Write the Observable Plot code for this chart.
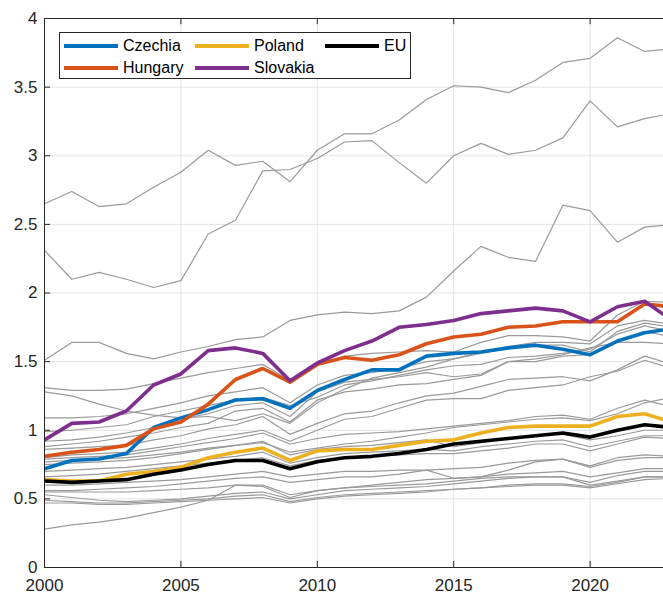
<!DOCTYPE html>
<html>
<head>
<meta charset="utf-8">
<script src="https://cdn.jsdelivr.net/npm/d3@7"></script>
<script src="https://cdn.jsdelivr.net/npm/@observablehq/plot@0.6"></script>
<style>
  html, body { margin: 0; padding: 0; background: #fff; }
  #wrap { position: relative; width: 663px; height: 595px; overflow: hidden; }
  #legend {
    position: absolute; left: 59px; top: 32px; width: 352px; height: 47px;
    border: 1px solid #262626; background: #fff; box-sizing: border-box;
    font-family: "Liberation Sans", Arial, Helvetica, sans-serif; font-size: 16px; color: #000;
  }
  .item { position: absolute; height: 20px; display: flex; align-items: center; }
  .swatch { width: 54px; height: 3.5px; margin-right: 5px; }
</style>
</head>
<body>
<div id="wrap"><div id="legend"></div></div>
<script>
const years = d3.range(2000, 2024);

// Highlighted series
const czechia  = [0.72,0.78,0.79,0.83,1.02,1.09,1.15,1.22,1.23,1.16,1.29,1.37,1.44,1.44,1.54,1.56,1.57,1.60,1.62,1.59,1.55,1.65,1.71,1.74];
const hungary  = [0.81,0.84,0.86,0.89,1.01,1.06,1.19,1.37,1.45,1.35,1.48,1.53,1.51,1.55,1.63,1.68,1.70,1.75,1.76,1.79,1.79,1.79,1.92,1.90];
const poland   = [0.64,0.63,0.63,0.68,0.70,0.73,0.80,0.84,0.87,0.78,0.85,0.86,0.86,0.89,0.92,0.93,0.98,1.02,1.03,1.03,1.03,1.10,1.12,1.06];
const slovakia = [0.93,1.05,1.06,1.14,1.33,1.41,1.58,1.60,1.56,1.36,1.49,1.58,1.65,1.75,1.77,1.80,1.85,1.87,1.89,1.87,1.79,1.90,1.94,1.80];
const eu       = [0.63,0.62,0.63,0.64,0.68,0.71,0.75,0.78,0.78,0.72,0.77,0.80,0.81,0.83,0.86,0.90,0.92,0.94,0.96,0.98,0.95,1.00,1.04,1.02];

// Other EU countries (grey)
const g01 = [2.65,2.74,2.63,2.65,2.77,2.88,3.04,2.93,2.96,2.81,3.04,3.16,3.16,3.26,3.41,3.51,3.50,3.46,3.55,3.68,3.71,3.86,3.76,3.78];
const g02 = [2.31,2.10,2.15,2.10,2.04,2.09,2.43,2.53,2.89,2.90,2.98,3.10,3.11,2.95,2.80,3.00,3.09,3.01,3.04,3.13,3.40,3.21,3.27,3.31];
const g03 = [1.51,1.64,1.64,1.56,1.52,1.57,1.61,1.66,1.68,1.80,1.84,1.86,1.85,1.87,1.97,2.16,2.34,2.26,2.23,2.64,2.60,2.37,2.48,2.50];
const g04 = [1.31,1.29,1.29,1.30,1.34,1.38,1.42,1.45,1.48,1.36,1.47,1.54,1.56,1.57,1.58,1.57,1.64,1.69,1.69,1.68,1.65,1.84,1.94,1.93];
const g05 = [1.28,1.25,1.19,1.14,1.11,1.09,1.10,1.07,1.12,1.05,1.20,1.30,1.38,1.42,1.46,1.52,1.57,1.61,1.64,1.64,1.63,1.76,1.80,1.77];
const g06 = [1.09,1.09,1.10,1.12,1.16,1.20,1.25,1.28,1.31,1.20,1.33,1.40,1.42,1.45,1.50,1.52,1.56,1.60,1.62,1.62,1.57,1.72,1.78,1.75];
const g07 = [0.99,1.00,1.02,1.04,1.10,1.14,1.18,1.22,1.24,1.18,1.24,1.33,1.36,1.40,1.44,1.47,1.48,1.53,1.54,1.56,1.59,1.70,1.76,1.72];
const g08 = [0.92,0.93,0.95,0.98,1.02,1.08,1.12,1.18,1.20,1.10,1.28,1.35,1.37,1.39,1.42,1.39,1.41,1.50,1.50,1.54,1.55,1.65,1.72,1.68];
const g09 = [0.88,0.90,0.92,0.95,0.98,1.02,1.05,1.14,1.16,1.06,1.22,1.28,1.30,1.33,1.34,1.37,1.40,1.50,1.52,1.55,1.60,1.64,1.64,1.63];
const g10 = [0.86,0.87,0.88,0.89,0.93,0.96,1.01,1.04,1.10,0.97,1.05,1.12,1.14,1.20,1.25,1.27,1.32,1.37,1.38,1.39,1.36,1.44,1.54,1.48];
const g11 = [0.80,0.82,0.83,0.84,0.87,0.90,0.94,0.97,1.00,0.92,1.00,1.08,1.10,1.16,1.22,1.23,1.23,1.29,1.31,1.33,1.39,1.43,1.51,1.45];
const g12 = [0.79,0.80,0.81,0.82,0.85,0.88,0.91,0.94,0.98,0.90,0.94,0.97,0.98,0.99,1.01,1.03,1.05,1.07,1.10,1.11,1.08,1.16,1.22,1.17];
const g13 = [0.77,0.78,0.79,0.80,0.82,0.84,0.87,0.89,0.91,0.84,0.87,0.90,0.92,0.95,0.98,1.02,1.04,1.06,1.08,1.09,1.07,1.12,1.20,1.24];
const g14 = [0.75,0.76,0.77,0.78,0.80,0.83,0.86,0.89,0.92,0.82,0.86,0.88,0.89,0.91,0.93,0.88,0.91,0.94,0.96,0.97,0.93,0.96,1.00,1.00];
const g15 = [0.70,0.71,0.72,0.73,0.75,0.77,0.79,0.81,0.84,0.76,0.80,0.83,0.84,0.85,0.86,0.85,0.88,0.90,0.92,0.93,0.88,0.92,0.96,0.96];
const g16 = [0.66,0.67,0.68,0.70,0.72,0.74,0.76,0.78,0.80,0.74,0.78,0.80,0.81,0.82,0.83,0.83,0.85,0.87,0.90,0.90,0.85,0.90,0.95,0.94];
const g17 = [0.60,0.60,0.61,0.62,0.63,0.64,0.66,0.68,0.70,0.66,0.68,0.70,0.70,0.71,0.71,0.72,0.73,0.76,0.78,0.79,0.74,0.80,0.82,0.81];
const g18 = [0.56,0.56,0.57,0.58,0.59,0.61,0.63,0.65,0.66,0.62,0.64,0.66,0.66,0.68,0.71,0.65,0.66,0.71,0.77,0.79,0.73,0.78,0.80,0.80];
const g19 = [0.55,0.55,0.55,0.55,0.56,0.57,0.58,0.60,0.60,0.53,0.56,0.58,0.59,0.60,0.61,0.63,0.65,0.66,0.66,0.66,0.62,0.67,0.70,0.70];
const g20 = [0.53,0.51,0.49,0.48,0.49,0.50,0.52,0.54,0.55,0.50,0.53,0.56,0.57,0.58,0.59,0.61,0.63,0.65,0.66,0.66,0.60,0.63,0.66,0.66];
const g21 = [0.49,0.48,0.47,0.47,0.48,0.49,0.50,0.52,0.53,0.48,0.51,0.53,0.54,0.55,0.56,0.57,0.58,0.60,0.61,0.61,0.59,0.62,0.66,0.66];
const g22 = [0.47,0.47,0.46,0.46,0.47,0.48,0.49,0.50,0.51,0.47,0.50,0.52,0.53,0.54,0.55,0.57,0.58,0.59,0.60,0.60,0.58,0.61,0.64,0.65];
const g23 = [0.28,0.31,0.33,0.36,0.40,0.44,0.49,0.60,0.59,0.51,0.56,0.58,0.60,0.62,0.64,0.65,0.66,0.68,0.69,0.70,0.66,0.69,0.72,0.72];

const xTicks = [2000, 2005, 2010, 2015, 2020];
const yTicks = [0, 0.5, 1, 1.5, 2, 2.5, 3, 3.5, 4];

const names  = ["Czechia", "Hungary", "Poland", "Slovakia", "EU"];
const colors = ["#0072BD", "#D95319", "#EDB120", "#7E2F8E", "#000000"];

const highlighted = [czechia, hungary, poland, slovakia, eu];
const greys = [g01,g02,g03,g04,g05,g06,g07,g08,g09,g10,g11,g12,g13,g14,g15,g16,g17,g18,g19,g20,g21,g22,g23];

const greyRows = greys.flatMap((s, i) => s.map((v, j) => ({year: years[j], value: v, id: "g" + i})));
const hiRows = highlighted.map((s, i) => s.map((v, j) => ({year: years[j], value: v, name: names[i]})));

const axisColor = "#262626";
const font = "'Liberation Sans', Arial, Helvetica, sans-serif";

const chart = Plot.plot({
  width: 663,
  height: 595,
  marginLeft: 44,
  marginRight: 0,
  marginTop: 18,
  marginBottom: 28,
  style: {fontFamily: font, fontSize: "17px", color: axisColor, background: "#fff", overflow: "hidden"},
  x: {domain: [2000, 2022.69], ticks: xTicks, tickFormat: d => String(d), label: null},
  y: {domain: [0, 4], ticks: yTicks, tickFormat: d => String(d), label: null},
  marks: [
    Plot.gridX(xTicks, {stroke: "#e3e3e3", strokeOpacity: 1, strokeWidth: 1}),
    Plot.gridY(yTicks, {stroke: "#e3e3e3", strokeOpacity: 1, strokeWidth: 1}),
    Plot.axisX(xTicks, {tickSize: 0, tickPadding: 11, fontSize: 17, fill: axisColor, label: null, tickFormat: d => String(d)}),
    Plot.axisY(yTicks, {tickSize: 0, tickPadding: 7, fontSize: 17, fill: axisColor, label: null, tickFormat: d => String(d)}),
    Plot.line(greyRows, {x: "year", y: "value", z: "id", stroke: "#9a9a9a", strokeWidth: 1.2, clip: true}),
    ...hiRows.map((rows, i) => Plot.line(rows, {x: "year", y: "value", stroke: colors[i], strokeWidth: 3.6, clip: true})),
    // axes box and inward ticks (MATLAB style)
    Plot.ruleX(xTicks, {y1: 0, y2: 0.045, stroke: axisColor, strokeWidth: 1}),
    Plot.ruleX(xTicks, {y1: 3.955, y2: 4, stroke: axisColor, strokeWidth: 1}),
    Plot.ruleY(yTicks, {x1: 2000, x2: 2000.22, stroke: axisColor, strokeWidth: 1}),
    Plot.ruleX([2000], {stroke: axisColor, strokeWidth: 1}),
    Plot.ruleY([0, 4], {stroke: axisColor, strokeWidth: 1})
  ]
});

const wrap = document.getElementById("wrap");
wrap.insertBefore(chart, wrap.firstChild);

// legend
const legend = document.getElementById("legend");
const pos = [
  {left: 4, top: 3}, {left: 4, top: 25}, {left: 135, top: 3}, {left: 135, top: 25}, {left: 265, top: 3}
];
names.forEach((n, i) => {
  const it = document.createElement("div");
  it.className = "item";
  it.style.left = pos[i].left + "px";
  it.style.top = pos[i].top + "px";
  const sw = document.createElement("div");
  sw.className = "swatch";
  sw.style.background = colors[i];
  const tx = document.createElement("span");
  tx.textContent = n;
  it.appendChild(sw);
  it.appendChild(tx);
  legend.appendChild(it);
});
</script>
</body>
</html>
